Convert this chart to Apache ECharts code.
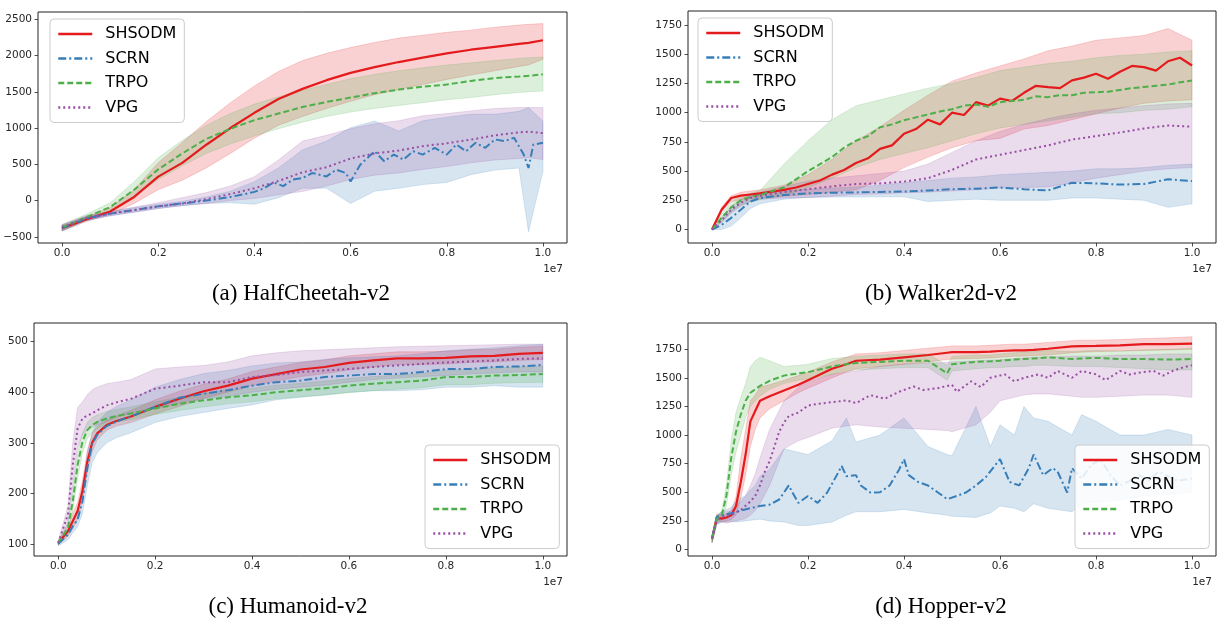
<!DOCTYPE html>
<html><head><meta charset="utf-8">
<script src="https://cdn.jsdelivr.net/npm/echarts@6/dist/echarts.min.js"></script>
<style>html,body{margin:0;padding:0;background:#fff}#c{width:1217px;height:622px}</style>
</head><body><div id="c"></div><script>
// ---------- data ----------
const methods = ['SHSODM', 'SCRN', 'TRPO', 'VPG'];
const captions = ['(a) HalfCheetah-v2', '(b) Walker2d-v2', '(c) Humanoid-v2', '(d) Hopper-v2'];
const xTicks = [0, 0.2, 0.4, 0.6, 0.8, 1.0];
const yTicksA = [-500, 0, 500, 1000, 1500, 2000, 2500];
const yTicksB = [0, 250, 500, 750, 1000, 1250, 1500, 1750];
const yTicksC = [100, 200, 300, 400, 500];
const yTicksD = [0, 250, 500, 750, 1000, 1250, 1500, 1750];

// (a) HalfCheetah
const xA = [0,0.05,0.1,0.15,0.2,0.25,0.3,0.35,0.4,0.45,0.5,0.55,0.6,0.65,0.7,0.75,0.8,0.85,0.9,0.95,0.97,1.0];
const aRed      = [-380,-260,-150,50,330,520,770,1000,1210,1400,1540,1660,1760,1840,1910,1970,2030,2080,2120,2160,2175,2210];
const aRedLo    = [-420,-290,-190,-40,150,280,450,650,860,1040,1160,1270,1370,1460,1530,1600,1670,1730,1790,1850,1870,1950];
const aRedHi    = [-340,-225,-100,150,520,800,1090,1350,1580,1780,1930,2030,2110,2180,2240,2280,2320,2350,2390,2420,2430,2440];
const xABlue    = [0,0.05,0.1,0.15,0.2,0.25,0.3,0.35,0.38,0.4,0.42,0.44,0.46,0.48,0.5,0.52,0.55,0.57,0.59,0.6,0.62,0.65,0.67,0.69,0.71,0.73,0.75,0.775,0.8,0.82,0.84,0.86,0.88,0.9,0.92,0.94,0.96,0.97,0.98,1.0];
const aBlue     = [-380,-250,-180,-130,-80,-40,0,50,90,120,170,250,200,290,310,380,333,426,380,264,495,680,542,634,565,680,634,727,634,773,680,796,727,843,820,866,634,449,773,796];
const aBlueLo   = [-420,-280,-210,-160,-110,-70,-40,-30,-50,40,170,170,-40,130,170,220,250,357,420,449,-430,403];
const aBlueHi   = [-340,-220,-150,-100,-50,-10,50,130,260,450,700,820,1005,1097,960,1100,1150,1190,1190,1230,1282,1097];
const aGreen    = [-370,-230,-90,150,430,650,850,990,1110,1200,1290,1360,1420,1480,1530,1570,1600,1650,1690,1710,1720,1740];
const aGreenLo  = [-420,-270,-140,60,290,480,650,780,890,990,1080,1160,1220,1270,1310,1350,1390,1420,1460,1490,1500,1510];
const aGreenHi  = [-330,-190,-30,260,590,830,1040,1200,1330,1430,1520,1600,1680,1740,1790,1830,1870,1900,1930,1960,1970,1980];
const aPurple   = [-370,-240,-180,-130,-80,-40,20,90,170,270,390,460,580,650,690,750,790,840,900,940,950,930];
const aPurpleLo = [-410,-270,-210,-160,-110,-70,-40,0,30,80,125,200,290,350,380,430,470,520,560,580,590,565];
const aPurpleHi = [-330,-210,-150,-90,-30,40,110,200,330,560,820,900,990,1060,1100,1170,1200,1236,1270,1282,1282,1282];

// (b) Walker2d
const xB = [0,0.02,0.04,0.06,0.08,0.1,0.15,0.2,0.25,0.3,0.35,0.4,0.45,0.5,0.55,0.6,0.65,0.7,0.75,0.8,0.85,0.9,0.95,1.0];
const xBDense   = [0,0.02,0.04,0.06,0.08,0.1,0.125,0.15,0.175,0.2,0.225,0.25,0.275,0.3,0.325,0.35,0.375,0.4,0.425,0.45,0.475,0.5,0.525,0.55,0.575,0.6,0.625,0.65,0.675,0.7,0.725,0.75,0.775,0.8,0.825,0.85,0.875,0.9,0.925,0.95,0.975,1.0];
const bRed      = [0,170,270,290,300,310,325,340,360,390,420,470,510,570,610,690,720,820,860,940,900,1000,980,1090,1060,1120,1100,1170,1230,1218,1210,1276,1300,1333,1290,1350,1400,1390,1360,1440,1470,1404];
const bRedLo    = [0,150,240,255,265,270,285,300,320,340,420,530,620,700,760,780,860,890,940,990,1040,1080,1100,1110];
const bRedHi    = [0,190,290,320,330,340,380,470,600,760,880,1020,1150,1270,1340,1400,1460,1530,1570,1620,1640,1660,1720,1620];
const bBlue     = [0,40,100,170,240,270,295,310,315,318,322,325,335,345,350,360,345,335,400,395,385,390,430,415];
const bBlueLo   = [0,0,30,100,180,220,260,275,278,278,280,280,240,250,260,250,250,250,270,270,260,250,190,220];
const bBlueHi   = [0,70,160,230,285,310,330,345,355,365,380,400,420,440,450,470,480,490,500,520,520,530,550,560];
const bGreen    = [0,100,190,250,280,295,330,360,430,500,560,620,700,760,800,875,900,935,960,985,1010,1030,1060,1070,1050,1090,1100,1110,1140,1133,1150,1150,1170,1175,1180,1195,1210,1220,1230,1240,1260,1276];
const bGreenLo  = [0,70,150,210,240,255,290,360,440,530,600,650,700,760,820,870,900,930,960,990,1000,1020,1030,1050];
const bGreenHi  = [0,130,230,290,310,335,560,760,940,1060,1110,1160,1210,1250,1300,1360,1390,1420,1440,1470,1490,1500,1520,1530];
const bPurple   = [0,80,170,230,270,290,320,345,370,390,395,410,440,510,600,640,680,720,770,800,830,865,890,880];
const bPurpleLo = [0,60,140,200,240,260,270,275,285,300,305,315,320,330,340,355,360,365,400,440,470,500,520,530];
const bPurpleHi = [0,100,200,260,300,320,370,415,440,460,480,500,560,660,760,840,900,950,990,1020,1040,1060,1075,1080];

// (c) Humanoid
const xC = [0,0.02,0.03,0.04,0.05,0.06,0.07,0.08,0.1,0.12,0.15,0.2,0.25,0.3,0.35,0.4,0.45,0.5,0.55,0.6,0.65,0.7,0.75,0.8,0.85,0.9,0.95,1.0];
const cRed      = [102,125,145,165,205,262,300,318,335,343,352,371,387,402,413,427,436,445,450,458,463,467,467,468,471,472,476,478];
const cRedLo    = [98,115,130,148,185,240,282,305,325,333,340,357,372,388,400,413,422,431,437,444,450,455,455,456,459,460,463,465];
const cRedHi    = [106,135,160,182,225,285,318,332,345,353,364,385,402,416,426,441,450,459,464,472,476,480,480,481,484,485,489,491];
const cBlue     = [100,118,135,148,184,250,297,315,333,342,352,371,389,397,404,413,420,423,430,433,436,436,440,446,446,450,451,454];
const cBlueLo   = [96,108,122,134,160,215,260,280,300,310,320,340,352,360,368,375,385,390,395,400,403,403,405,410,410,413,410,410];
const cBlueHi   = [104,128,150,165,205,280,320,340,360,372,385,410,425,437,443,452,458,460,465,468,470,472,476,482,485,488,492,495];
const cGreen    = [102,131,184,256,302,325,335,341,348,353,358,368,377,384,390,394,400,404,408,413,417,420,423,430,430,433,434,436];
const cGreenLo  = [98,120,165,230,280,308,320,328,336,341,346,356,364,371,377,381,387,391,394,399,403,406,409,415,415,418,419,420];
const cGreenHi  = [106,142,205,280,320,340,350,355,362,366,371,381,390,398,404,408,414,418,422,427,431,434,437,444,445,448,450,452];
const cPurple   = [102,158,256,328,348,354,358,364,374,380,387,407,413,420,420,430,434,440,443,446,450,453,456,459,461,463,466,467];
const cPurpleLo = [98,140,215,290,315,325,330,335,341,350,358,368,378,387,392,400,406,410,414,420,425,428,431,433,436,438,440,440];
const cPurpleHi = [106,175,300,370,381,395,405,410,417,420,425,446,450,453,460,472,478,482,484,486,488,490,491,492,493,494,495,495];

// (d) Hopper
const xD = [0,0.01,0.02,0.03,0.04,0.05,0.06,0.07,0.08,0.09,0.1,0.12,0.15,0.18,0.2,0.25,0.28,0.3,0.35,0.4,0.45,0.49,0.5,0.55,0.58,0.6,0.63,0.65,0.67,0.7,0.75,0.77,0.8,0.85,0.9,0.95,1.0];
const dRed      = [89,280,270,280,300,380,590,830,1120,1210,1300,1340,1390,1440,1480,1580,1620,1650,1660,1680,1700,1720,1725,1725,1730,1735,1740,1740,1745,1755,1775,1778,1780,1785,1795,1795,1800];
const dRedLo    = [60,250,240,250,260,300,450,650,900,1050,1150,1230,1300,1370,1410,1500,1550,1580,1600,1620,1640,1660,1665,1670,1675,1680,1690,1690,1695,1700,1720,1725,1730,1735,1740,1745,1750];
const dRedHi    = [110,310,300,310,340,460,800,1050,1300,1350,1420,1440,1480,1520,1550,1640,1680,1710,1720,1740,1760,1775,1780,1780,1785,1790,1795,1795,1800,1810,1825,1830,1830,1835,1845,1850,1860];
const xDBlue    = [0,0.01,0.02,0.04,0.06,0.08,0.1,0.12,0.14,0.16,0.17,0.18,0.2,0.22,0.24,0.26,0.27,0.28,0.3,0.31,0.33,0.35,0.37,0.39,0.4,0.41,0.43,0.45,0.47,0.49,0.51,0.53,0.55,0.57,0.6,0.62,0.64,0.66,0.67,0.69,0.71,0.72,0.74,0.75,0.77,0.79,0.81,0.83,0.85,0.87,0.89,0.91,0.93,0.95,0.97,1.0];
const dBlue     = [100,286,300,316,340,361,380,392,437,560,480,407,468,407,498,650,730,640,650,559,498,500,559,700,790,650,589,559,500,440,468,500,560,630,790,590,560,711,830,650,711,680,498,711,620,740,790,650,560,600,650,600,680,640,600,620];
const dBlueLo   = [60,220,240,240,245,240,245,250,255,260,265,250,240,210,210,240,300,330,330,350,320,300,290,280,320,380,360,330,400,360,330,400,410,430,470,480,500];
const dBlueHi   = [110,290,330,350,370,420,450,470,520,560,640,700,880,850,830,950,1150,940,1000,1150,900,830,820,1250,900,1090,1000,1250,1150,1120,1000,1180,1120,1000,1000,1050,1000];
const dGreen    = [90,266,295,470,800,1030,1180,1300,1370,1400,1430,1475,1520,1540,1550,1600,1620,1630,1640,1650,1650,1540,1620,1640,1645,1650,1660,1665,1670,1680,1665,1670,1675,1665,1665,1660,1665];
const dGreenLo  = [60,230,260,380,650,850,1000,1150,1250,1300,1340,1400,1450,1480,1490,1530,1560,1570,1580,1590,1590,1480,1560,1580,1590,1590,1600,1600,1610,1610,1600,1600,1600,1590,1580,1570,1570];
const dGreenHi  = [110,300,330,560,950,1200,1330,1450,1600,1650,1680,1650,1600,1610,1620,1670,1680,1690,1700,1710,1710,1610,1690,1700,1700,1710,1720,1725,1730,1740,1730,1735,1740,1735,1745,1750,1760];
const xDPurple  = [0,0.01,0.02,0.04,0.06,0.08,0.09,0.1,0.11,0.12,0.13,0.14,0.15,0.16,0.18,0.2,0.22,0.25,0.28,0.3,0.33,0.36,0.39,0.42,0.44,0.47,0.5,0.51,0.54,0.56,0.58,0.61,0.63,0.65,0.68,0.7,0.72,0.75,0.77,0.8,0.82,0.85,0.87,0.89,0.92,0.94,0.96,0.98,1.0];
const dPurple   = [100,250,286,300,346,420,468,560,680,772,900,1030,1110,1167,1197,1258,1273,1288,1303,1280,1349,1318,1379,1425,1394,1410,1440,1379,1470,1420,1501,1531,1470,1501,1531,1500,1561,1501,1561,1531,1480,1561,1530,1546,1561,1520,1561,1590,1610];
const dPurpleLo = [60,220,240,230,240,250,260,270,300,340,400,560,880,950,980,1060,1080,1090,1070,1060,1050,1040,1030,1090,1200,1300,1330,1350,1360,1360,1340,1330,1330,1340,1350,1350,1330];
const dPurpleHi = [110,290,330,330,340,380,420,470,560,660,800,1050,1300,1420,1470,1530,1550,1560,1600,1620,1630,1635,1640,1650,1655,1660,1670,1675,1680,1685,1690,1690,1690,1700,1700,1710,1710];

// ---------- layout / style ----------
const colors = ['#e41a1c', '#377eb8', '#4daf4a', '#984ea3'];
const dashes = ['solid', [8, 3, 2, 3], [6, 3], [2, 3]];
// each set: [x of mean line, mean, lower band, upper band]; bands use the plot's x
const plots = [
  { x: xA, ticks: yTicksA, ymin: -585, ymax: 2600, sets: [[xA,aRed,aRedLo,aRedHi],[xABlue,aBlue,aBlueLo,aBlueHi],[xA,aGreen,aGreenLo,aGreenHi],[xA,aPurple,aPurpleLo,aPurpleHi]] },
  { x: xB, ticks: yTicksB, ymin: -115, ymax: 1870, sets: [[xBDense,bRed,bRedLo,bRedHi],[xB,bBlue,bBlueLo,bBlueHi],[xBDense,bGreen,bGreenLo,bGreenHi],[xB,bPurple,bPurpleLo,bPurpleHi]] },
  { x: xC, ticks: yTicksC, ymin: 76, ymax: 537, sets: [[xC,cRed,cRedLo,cRedHi],[xC,cBlue,cBlueLo,cBlueHi],[xC,cGreen,cGreenLo,cGreenHi],[xC,cPurple,cPurpleLo,cPurpleHi]] },
  { x: xD, ticks: yTicksD, ymin: -57, ymax: 1980, sets: [[xD,dRed,dRedLo,dRedHi],[xDBlue,dBlue,dBlueLo,dBlueHi],[xD,dGreen,dGreenLo,dGreenHi],[xDPurple,dPurple,dPurpleLo,dPurpleHi]] }
];
const gridPos = [
  { left: 38, top: 12, width: 529, height: 231 },
  { left: 688, top: 11, width: 528, height: 232 },
  { left: 34, top: 323, width: 533, height: 233 },
  { left: 688, top: 323, width: 528, height: 233 }
];
const legendPos = [ { left: 50, top: 19 }, { left: 698, top: 18 }, { left: 425, top: 445 }, { left: 1075, top: 445 } ];
const captionPos = [ [301, 294], [941, 294], [288, 607], [941, 607] ];

const tickFont = { fontFamily: 'DejaVu Sans', fontSize: 10.5, color: '#262626' };
const fmtNum = v => String(v).replace('-', '\u2212');
function rgba(hex, a) {
  const n = parseInt(hex.slice(1), 16);
  return 'rgba(' + ((n >> 16) & 255) + ',' + ((n >> 8) & 255) + ',' + (n & 255) + ',' + a + ')';
}

const grid = [], xAxis = [], yAxis = [], series = [], legend = [], graphic = [];
plots.forEach((p, i) => {
  grid.push(Object.assign({ show: true, borderColor: '#222', borderWidth: 1, backgroundColor: '#fff', containLabel: false }, gridPos[i]));
  xAxis.push({
    type: 'value', gridIndex: i, min: -0.05, max: 1.05,
    axisLine: { show: false, onZero: false }, splitLine: { show: false },
    axisTick: { show: true, length: 3.5, lineStyle: { color: '#222', width: 0.8 }, customValues: xTicks },
    axisLabel: Object.assign({ customValues: xTicks, margin: 5, formatter: v => v.toFixed(1) }, tickFont),
    name: '1e7', nameLocation: 'end', nameGap: -4,
    nameTextStyle: { fontFamily: 'DejaVu Sans', fontSize: 10.5, color: '#262626', align: 'right', verticalAlign: 'top', padding: [21, 0, 0, 0] }
  });
  yAxis.push({
    type: 'value', gridIndex: i, min: p.ymin, max: p.ymax,
    axisLine: { show: false, onZero: false }, splitLine: { show: false },
    axisTick: { show: true, length: 3.5, lineStyle: { color: '#222', width: 0.8 }, customValues: p.ticks },
    axisLabel: Object.assign({ customValues: p.ticks, margin: 6, formatter: fmtNum }, tickFont)
  });
  // shaded bands (lo..hi) drawn through the axes' coordinate conversion
  p.sets.forEach((s, j) => {
    const lo = s[2], hi = s[3];
    series.push({
      type: 'custom', name: 'band' + i + '_' + j, xAxisIndex: i, yAxisIndex: i, silent: true, z: 1, clip: true,
      data: p.x.map((v, k) => [v, lo[k], hi[k]]),
      encode: { x: 0, y: [1, 2] },
      renderItem: (params, api) => {
        if (params.dataIndex !== 0) return null;
        const pts = [];
        for (let k = 0; k < p.x.length; k++) pts.push(api.coord([p.x[k], hi[k]]));
        for (let k = p.x.length - 1; k >= 0; k--) pts.push(api.coord([p.x[k], lo[k]]));
        return { type: 'polygon', shape: { points: pts },
          style: { fill: rgba(colors[j], 0.2), stroke: rgba(colors[j], 0.22), lineWidth: 0.8 } };
      }
    });
  });
  // mean lines
  p.sets.forEach((s, j) => {
    series.push({
      type: 'line', name: methods[j], xAxisIndex: i, yAxisIndex: i,
      data: s[0].map((v, k) => [v, s[1][k]]), symbol: 'none', z: 3,
      itemStyle: { color: colors[j] },
      lineStyle: { color: colors[j], width: j === 0 ? 2.2 : 2, type: dashes[j] }
    });
  });
  legend.push(Object.assign({
    data: methods, orient: 'vertical', itemWidth: 34, itemHeight: 16, itemGap: 8.5,
    padding: [7, 8, 7, 7], borderColor: '#ccc', borderWidth: 1, borderRadius: 4,
    backgroundColor: 'rgba(255,255,255,0.85)', selectedMode: false,
    itemStyle: { opacity: 0, color: 'rgba(0,0,0,0)', borderWidth: 0 },
    lineStyle: { width: 2.5 },
    textStyle: { fontFamily: 'DejaVu Sans', fontSize: 16, color: '#000', padding: [0, 0, 0, 8] }
  }, legendPos[i]));
  graphic.push({
    type: 'text', x: captionPos[i][0], y: captionPos[i][1], silent: true,
    style: { text: captions[i], font: '23px "Liberation Serif"', fill: '#000', textAlign: 'center', textVerticalAlign: 'middle', align: 'center', verticalAlign: 'middle' }
  });
});

const chart = echarts.init(document.getElementById('c'));
chart.setOption({ animation: false, backgroundColor: '#fff', grid, xAxis, yAxis, series, legend, graphic });
</script></body></html>
